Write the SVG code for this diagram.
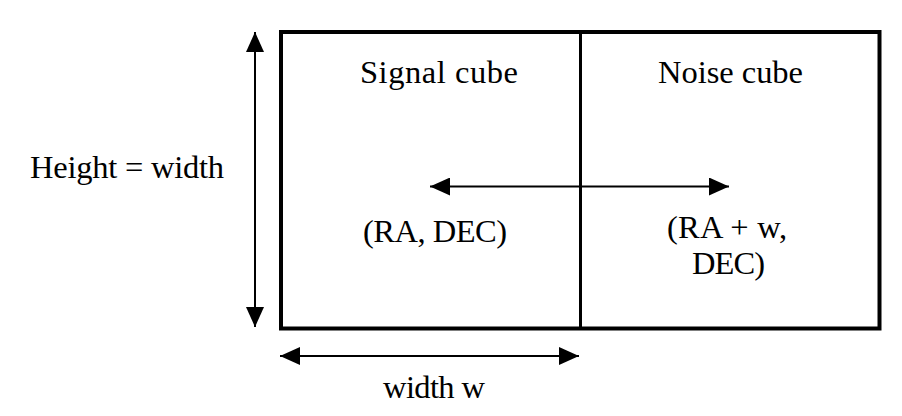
<svg xmlns="http://www.w3.org/2000/svg" width="902" height="416" viewBox="0 0 902 416">
<defs>
<style>
text{font-family:"Liberation Serif","Times New Roman",serif;font-size:32.5px;fill:#000;text-anchor:middle}
.box{fill:none;stroke:#000;stroke-width:4}
.div{stroke:#000;stroke-width:3}
.conn{stroke:#000;stroke-width:2;fill:none}
</style>
<marker id="ah" viewBox="0 0 20 18" refX="20" refY="9" markerWidth="20" markerHeight="18" markerUnits="userSpaceOnUse" orient="auto-start-reverse">
<path d="M0,0 L20,9 L0,18 Z" fill="#000"/>
</marker>
</defs>
<rect width="902" height="416" fill="#fff"/>
<g id="cubes">
<rect class="box" x="281" y="32" width="598.5" height="296.5"/>
<line class="div" x1="580.5" y1="32" x2="580.5" y2="328.5"/>
</g>
<g id="signal-cube">
<text x="439" y="83" textLength="158">Signal cube</text>
<text x="435" y="242" textLength="144">(RA, DEC)</text>
</g>
<g id="noise-cube">
<text x="730.5" y="83" textLength="145">Noise cube</text>
<text x="727" y="238" textLength="120">(RA + w,</text>
<text x="728.5" y="274" textLength="73">DEC)</text>
</g>
<g id="labels">
<text x="127" y="178" textLength="194">Height = width</text>
<text x="434" y="398" textLength="102">width w</text>
</g>
<g id="connectors">
<line class="conn" x1="255" y1="32" x2="255" y2="327" marker-start="url(#ah)" marker-end="url(#ah)"/>
<line class="conn" x1="280" y1="356" x2="579" y2="356" marker-start="url(#ah)" marker-end="url(#ah)"/>
<line class="conn" x1="430" y1="186.5" x2="729" y2="186.5" marker-start="url(#ah)" marker-end="url(#ah)"/>
</g>
</svg>
